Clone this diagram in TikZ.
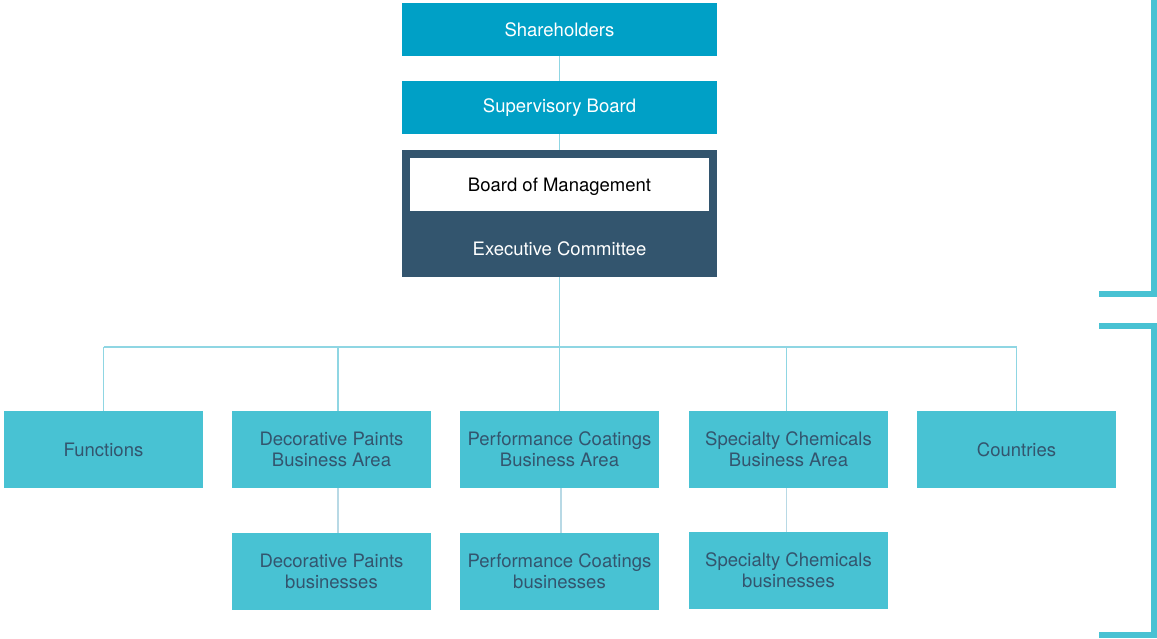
\documentclass[tikz,border=0pt]{standalone}
\usepackage{fontspec}
\setmainfont{TeX Gyre Heros}
\definecolor{bxtop}{rgb}{0.0,0.627,0.776}
\definecolor{bxdark}{rgb}{0.2,0.333,0.431}
\definecolor{bxcyan}{rgb}{0.282,0.761,0.827}
\definecolor{lncyan}{rgb}{0.56,0.84,0.89}
\definecolor{lnpale}{rgb}{0.72,0.85,0.90}
\tikzset{
  topbox/.style={fill=bxtop,text=white,minimum width=315,minimum height=53,inner sep=0pt},
  unitbox/.style={fill=bxcyan,text=bxdark,minimum width=199,minimum height=77,inner sep=0pt,align=center},
  link/.style={line width=1.2pt,color=lncyan},
  sublink/.style={line width=1.2pt,color=lnpale},
  brace/.style={line width=6.5pt,color=bxcyan,line cap=butt,line join=miter}
}
\begin{document}
\begin{tikzpicture}[x=1pt,y=-1pt,font=\fontsize{18.5}{21}\selectfont]
  \useasboundingbox (0,0) rectangle (1157,639);
  % top of the chart
  \node[topbox] (share) at (559.5,29.5) {Shareholders};
  \node[topbox] (super) at (559.5,107.5) {Supervisory Board};
  \node[fill=bxdark,minimum width=315,minimum height=127,inner sep=0pt] (exec) at (559.5,213.5) {};
  \node[fill=white,text=black,minimum width=299,minimum height=53,inner sep=0pt,text depth=0pt] (bom) at (559.5,184.5) {Board of Management};
  \node[text=white,inner sep=0pt] (excom) at (559.5,249) {Executive Committee};
  % first row
  \node[unitbox] (fun) at (103.5,449.5) {Functions};
  \node[unitbox] (dpa) at (331.5,449.5) {Decorative Paints\\Business Area};
  \node[unitbox] (pca) at (559.5,449.5) {Performance Coatings\\Business Area};
  \node[unitbox] (sca) at (788.5,449.5) {Specialty Chemicals\\Business Area};
  \node[unitbox] (cty) at (1016.5,449.5) {Countries};
  % second row
  \node[unitbox] (dpb) at (331.5,571.5) {Decorative Paints\\businesses};
  \node[unitbox] (pcb) at (559.5,571.5) {Performance Coatings\\businesses};
  \node[unitbox] (scb) at (788.5,570.5) {Specialty Chemicals\\businesses};
  % connectors
  \coordinate (bus) at (559.5,347);
  \draw[link] (share.south) -- (super.north);
  \draw[link] (super.south) -- (exec.north);
  \draw[link] (exec.south) -- (bus);
  \draw[link] (bus -| fun.north) -- (bus -| cty.north);
  \draw[link] (bus -| fun.north) -- (fun.north);
  \draw[link] ([xshift=6.5]dpa.north |- bus) -- ([xshift=6.5]dpa.north);
  \draw[link] (bus) -- (pca.north);
  \draw[link] ([xshift=-2]sca.north |- bus) -- ([xshift=-2]sca.north);
  \draw[link] (bus -| cty.north) -- (cty.north);
  \draw[sublink] ([xshift=6.5]dpa.south) -- ([xshift=6.5]dpb.north);
  \draw[sublink] ([xshift=1.5]pca.south) -- ([xshift=1.5]pcb.north);
  \draw[sublink] ([xshift=-2]sca.south) -- ([xshift=-2]scb.north);
  % brackets on the right
  \draw[brace] (1099,294) -- (1153.75,294) -- (1153.75,0);
  \draw[brace] (1099,326) -- (1153.75,326) -- (1153.75,635) -- (1099,635);
\end{tikzpicture}
\end{document}
